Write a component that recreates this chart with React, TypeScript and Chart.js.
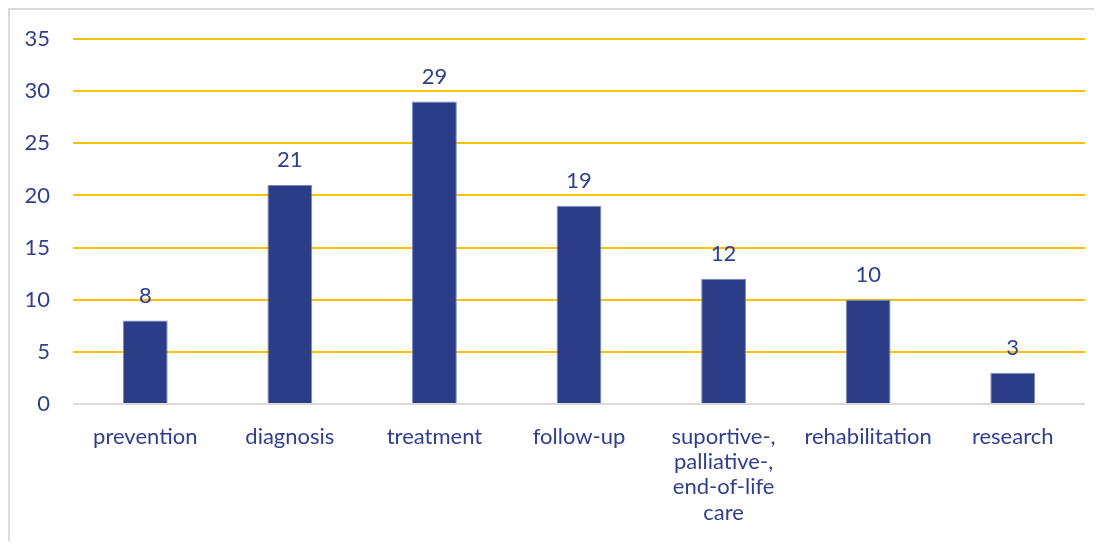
import React, { useEffect, useRef } from "react";
import { Chart, registerables } from "chart.js";

Chart.register(...registerables);

const categories: string[][] = [
  ["prevention"],
  ["diagnosis"],
  ["treatment"],
  ["follow-up"],
  ["suportive-,", "palliative-,", "end-of-life", "care"],
  ["rehabilitation"],
  ["research"],
];
const values: number[] = [8, 21, 29, 19, 12, 10, 3];
const yTicks: number[] = [0, 5, 10, 15, 20, 25, 30, 35];

const TEXT = "#2f3f8e";
const BAR = "#2b3d87";
const FONT = "Lato, 'Open Sans', sans-serif";
const FS = 22;

const valueLabels = {
  id: "valueLabels",
  afterDatasetsDraw(chart: any) {
    const ctx = chart.ctx;
    const meta = chart.getDatasetMeta(0);
    ctx.save();
    ctx.fillStyle = TEXT;
    ctx.font = `${FS}px ${FONT}`;
    ctx.textAlign = "center";
    ctx.textBaseline = "middle";
    meta.data.forEach((el: any, i: number) => {
      ctx.fillText(String(values[i]), el.x, el.y - 25);
    });
    ctx.restore();
  },
};

export default function App() {
  const ref = useRef<HTMLCanvasElement | null>(null);
  useEffect(() => {
    if (!ref.current) return;
    const chart = new Chart(ref.current, {
      type: "bar",
      data: {
        labels: categories,
        datasets: [
          {
            data: values,
            backgroundColor: BAR,
            borderColor: "#7d8bbf",
            borderWidth: 1,
            categoryPercentage: 1,
            barPercentage: 0.31,
          },
        ],
      },
      options: {
        animation: false,
        responsive: true,
        maintainAspectRatio: false,
        layout: { padding: { top: 29, right: 9, left: 0, bottom: 0 } },
        plugins: { legend: { display: false }, tooltip: { enabled: false } },
        scales: {
          x: {
            grid: { display: false },
            border: { display: false },
            ticks: {
              color: TEXT,
              font: { family: FONT, size: FS, lineHeight: 1.15 },
              padding: 12,
              maxRotation: 0,
              autoSkip: false,
            },
            afterFit: (s: any) => {
              s.height = 137;
              s.paddingLeft = 0;
              s.paddingRight = 0;
            },
          },
          y: {
            min: 0,
            max: 35,
            afterBuildTicks: (s: any) => {
              s.ticks = yTicks.map((v) => ({ value: v }));
            },
            grid: {
              drawTicks: false,
              color: (c: any) => (c.tick && c.tick.value === 0 ? "#d9d9d9" : "#ffc000"),
              lineWidth: 2,
            },
            border: { display: false },
            ticks: {
              color: TEXT,
              font: { family: FONT, size: FS },
              padding: 23,
            },
            afterFit: (s: any) => {
              s.width = 63;
              s.paddingTop = 0;
              s.paddingBottom = 0;
            },
          },
        },
      },
      plugins: [valueLabels],
    });
    return () => chart.destroy();
  }, []);

  return (
    <div
      style={{
        width: 1086,
        height: 533,
        borderLeft: "2px solid #d9d9d9",
        borderTop: "2px solid #d9d9d9",
        boxSizing: "border-box",
        position: "relative",
      }}
    >
      <div style={{ position: "relative", width: 1084, height: 531 }}>
        <canvas ref={ref} />
      </div>
    </div>
  );
}
